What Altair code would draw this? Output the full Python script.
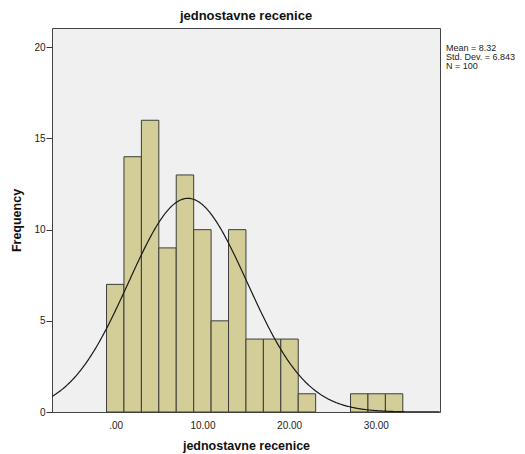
import altair as alt
import pandas as pd

# ---- data ----
counts = [7, 14, 16, 9, 13, 10, 5, 10, 4, 4, 4, 1, 0, 0, 1, 1, 1]
bin_edges = [-1.06, 0.95, 2.96, 4.97, 6.98, 8.99, 11.00, 13.01, 15.02, 17.03,
             19.04, 21.05, 23.06, 25.07, 27.08, 29.09, 31.10, 33.11]
x_ticks = [0, 10, 20, 30]
y_ticks = [0, 5, 10, 15, 20]
x_domain = [-7.35, 37.4]
y_domain = [0, 21.06]
mean_val = 8.32
sd_val = 6.843
n_val = 100
stats_text = "Mean = 8.32\nStd. Dev. = 6.843\nN = 100"
title_text = "jednostavne recenice"

bins = pd.DataFrame({
    "lo": bin_edges[:-1],
    "hi": bin_edges[1:],
    "count": counts,
})
bin_width = (bin_edges[-1] - bin_edges[0]) / len(counts)

FONT = "Liberation Sans"

xscale = alt.Scale(domain=x_domain, nice=False, zero=False)
yscale = alt.Scale(domain=y_domain, nice=False)

xaxis = alt.Axis(values=x_ticks, title=title_text, grid=False, ticks=False, domain=False,
                 labelExpr="datum.value == 0 ? '.00' : format(datum.value, '.2f')",
                 labelFont=FONT, labelFontSize=10, labelColor="#222222", labelPadding=8,
                 titleFont=FONT, titleFontSize=12.5, titleFontWeight="bold", titleColor="#111111",
                 titlePadding=9)
yaxis = alt.Axis(values=y_ticks, title="Frequency", grid=False, ticks=True, tickSize=6,
                 tickColor="#333333", domain=False, labelFont=FONT, labelFontSize=10,
                 labelColor="#222222", labelPadding=1, titleFont=FONT, titleFontSize=12.5,
                 titleFontWeight="bold", titleColor="#111111", titlePadding=10)

bars = alt.Chart(bins).transform_filter("datum.count > 0").mark_rect(
    fill="#D3CE98", stroke="#3c3c3c", strokeWidth=1
).encode(
    x=alt.X("lo:Q", scale=xscale, axis=xaxis),
    x2="hi:Q",
    y=alt.Y("count:Q", scale=yscale, axis=yaxis),
    y2=alt.datum(0),
)

curve = alt.Chart(alt.sequence(x_domain[0], x_domain[1] + 0.05, 0.1, as_="xv")).transform_calculate(
    dens=f"{n_val} * {bin_width} * densityNormal(datum.xv, {mean_val}, {sd_val})"
).mark_line(color="#1a1a1a", strokeWidth=1.2, clip=True).encode(
    x=alt.X("xv:Q", scale=xscale),
    y=alt.Y("dens:Q", scale=yscale),
)

stats = alt.Chart(pd.DataFrame({"t": [stats_text]})).mark_text(
    align="left", baseline="top", font=FONT, fontSize=9, lineHeight=9,
    lineBreak="\n", color="#222222"
).encode(
    x=alt.value(394), y=alt.value(16), text="t:N"
)

chart = alt.layer(bars, curve, stats).properties(
    width=388, height=384,
    title=alt.TitleParams(title_text, font=FONT, fontSize=13, fontWeight="bold",
                          color="#111111", anchor="middle", offset=5),
    autosize=alt.AutoSizeParams(type="none"),
    padding={"left": 44, "top": 20, "right": 77, "bottom": 42},
    background="white",
).configure_view(
    fill="#F0F0F0", stroke="#444444", strokeWidth=1
)

chart.save("out.html", embed_options={"renderer": "svg", "actions": False})
